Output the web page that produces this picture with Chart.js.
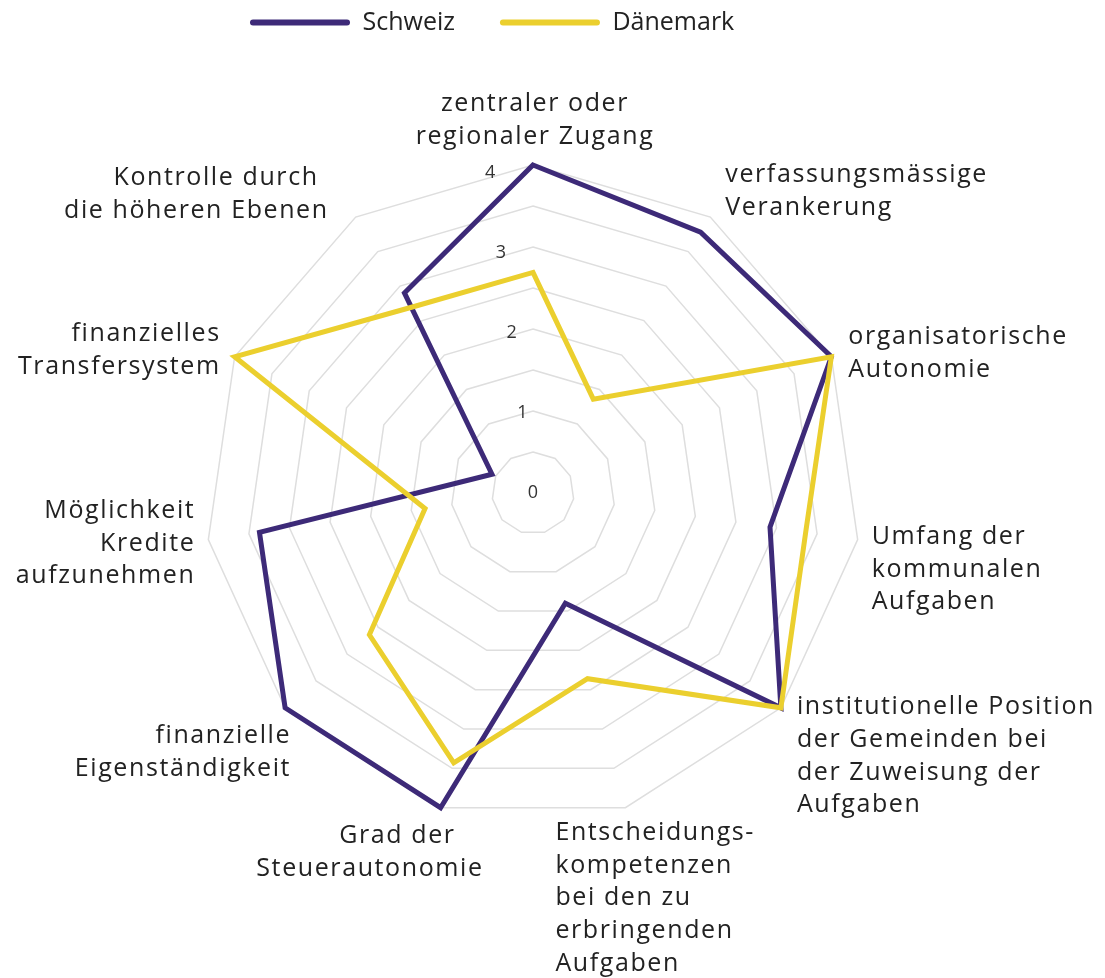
<!DOCTYPE html>
<html><head><meta charset="utf-8">
<script src="https://cdn.jsdelivr.net/npm/chart.js@4.4.1/dist/chart.umd.min.js"></script>
<style>html,body{margin:0;padding:0;background:#fff}#wrap{width:1105px;height:978px;position:relative}</style>
</head><body><div id="wrap"><canvas id="c"></canvas></div>
<script>
// ---- data ----
const categories = [
  ['zentraler oder', 'regionaler Zugang'],
  ['verfassungsmässige', 'Verankerung'],
  ['organisatorische', 'Autonomie'],
  ['Umfang der', 'kommunalen', 'Aufgaben'],
  ['institutionelle Position', 'der Gemeinden bei', 'der Zuweisung der', 'Aufgaben'],
  ['Entscheidungs-', 'kompetenzen', 'bei den zu', 'erbringenden', 'Aufgaben'],
  ['Grad der', 'Steuerautonomie'],
  ['finanzielle', 'Eigenständigkeit'],
  ['Möglichkeit', 'Kredite', 'aufzunehmen'],
  ['finanzielles', 'Transfersystem'],
  ['Kontrolle durch', 'die höheren Ebenen']
];
const seriesNames = ['Schweiz', 'Dänemark'];
const schweizValues = [4, 3.78, 4, 2.92, 4, 1.4, 4, 4, 3.37, 0.55, 2.9];
const daenemarkValues = [2.69, 1.36, 4, 3.36, 4, 2.36, 3.43, 2.64, 1.33, 4, 2.7];
const tickLabels = [0, 1, 2, 3, 4];

// ---- styles ----
const COLORS = ['#3d2a78', '#ebcf2e'];
const FONT = '"Open Sans", "Noto Sans", sans-serif';
const LABEL_SIZE = 25, LINE_H = 32.8, LABEL_SPACING = '1.6px';
// label placement relative to the outer grid vertex of each axis
const labelPlacement = [
  {align: 'center', dx: 2,   dy: -61},
  {align: 'left',   dx: 15,  dy: -42},
  {align: 'left',   dx: 17,  dy: -20},
  {align: 'left',   dx: 14,  dy: -3},
  {align: 'left',   dx: 16,  dy: -1},
  {align: 'left',   dx: -70, dy: 25},
  {align: 'right',  dx: 43,  dy: 28, firstDx: -28},
  {align: 'right',  dx: 6,   dy: 28},
  {align: 'right',  dx: -13, dy: -29},
  {align: 'right',  dx: -14, dy: -23},
  {align: 'right',  dx: -27, dy: -39, firstDx: -10}
];

const tickPlugin = {
  id: 'tickText',
  beforeDatasetsDraw(chart) {
    const s = chart.scales.r, ctx = chart.ctx;
    ctx.save();
    ctx.font = '18px ' + FONT;
    ctx.fillStyle = '#333';
    ctx.textAlign = 'center';
    ctx.textBaseline = 'middle';
    const a = -7.6 * Math.PI / 180;
    tickLabels.forEach(v => {
      const d = s.getDistanceFromCenterForValue(v) * 0.985;
      ctx.fillText(String(v), s.xCenter + d * Math.sin(a), s.yCenter - d * Math.cos(a));
    });
    ctx.restore();
  }
};
const labelPlugin = {
  id: 'axisText',
  afterDraw(chart) {
    const s = chart.scales.r, ctx = chart.ctx;
    ctx.save();
    ctx.font = LABEL_SIZE + 'px ' + FONT;
    if ('letterSpacing' in ctx) ctx.letterSpacing = LABEL_SPACING;
    ctx.fillStyle = '#222';
    ctx.textBaseline = 'middle';
    categories.forEach((lines, i) => {
      const p = s.getPointPosition(i, s.drawingArea);
      const pl = labelPlacement[i];
      ctx.textAlign = pl.align;
      lines.forEach((t, j) => {
        const off = (j === 0 && pl.firstDx) ? pl.firstDx : 0;
        ctx.fillText(t, p.x + pl.dx + off, p.y + pl.dy + j * LINE_H);
      });
    });
    ctx.restore();
  }
};

new Chart(document.getElementById('c'), {
  type: 'radar',
  data: {
    labels: categories,
    datasets: [
      {label: seriesNames[0], data: schweizValues, borderColor: COLORS[0], backgroundColor: COLORS[0],
       borderWidth: 5, fill: false, pointRadius: 0, pointHoverRadius: 0, borderJoinStyle: 'miter', order: 1},
      {label: seriesNames[1], data: daenemarkValues, borderColor: COLORS[1], backgroundColor: COLORS[1],
       borderWidth: 5, fill: false, pointRadius: 0, pointHoverRadius: 0, borderJoinStyle: 'miter', order: 0}
    ]
  },
  options: {
    responsive: true, maintainAspectRatio: false, animation: false,
    layout: {padding: {left: 205, right: 244, top: -35, bottom: 37}},
    plugins: {
      tooltip: {enabled: false},
      legend: {
        position: 'top', align: 'start',
        labels: {
          boxWidth: 100, boxHeight: 6, padding: 45, color: '#222',
          font: {size: 25, family: FONT},
          generateLabels: (chart) => chart.data.datasets.map((ds, i) => ({
            text: ds.label, fillStyle: ds.borderColor, strokeStyle: ds.borderColor, lineWidth: 0,
            hidden: !chart.isDatasetVisible(i), datasetIndex: i, borderRadius: 3, fontColor: '#222'
          })),
          useBorderRadius: true, borderRadius: 3
        }
      }
    },
    scales: {
      r: {
        min: 0, max: 4, startAngle: 0,
        ticks: {stepSize: 0.5, display: false},
        grid: {color: '#dedede', lineWidth: 1.5, circular: false},
        angleLines: {display: false},
        pointLabels: {display: false}
      }
    }
  },
  plugins: [tickPlugin, labelPlugin]
});
</script></body></html>
